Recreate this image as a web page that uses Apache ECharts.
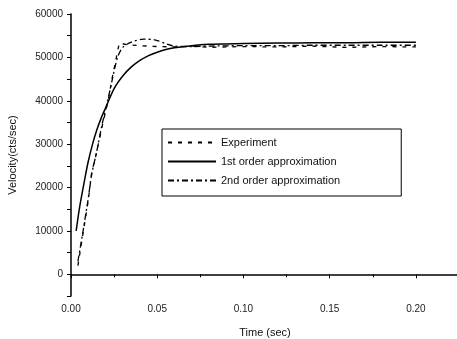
<!DOCTYPE html>
<html>
<head>
<meta charset="utf-8">
<script src="https://cdn.jsdelivr.net/npm/echarts@6/dist/echarts.min.js"></script>
<style>
  html, body { margin: 0; padding: 0; background: #fff; }
  #chart { width: 457px; height: 339px; }
</style>
</head>
<body>
<div id="chart"></div>
<script>
// values
const firstOrderT = [0.003, 0.005, 0.008, 0.01, 0.0125, 0.015, 0.0175, 0.02, 0.025, 0.03, 0.035, 0.04, 0.045, 0.05, 0.055, 0.06, 0.07, 0.08, 0.09, 0.1, 0.12, 0.14, 0.16, 0.18, 0.2];
const firstOrderV = [10000, 15500, 22000, 26000, 30000, 33300, 36000, 38300, 42800, 45700, 47800, 49300, 50400, 51200, 51800, 52200, 52700, 53000, 53100, 53200, 53300, 53400, 53400, 53500, 53500];

const experimentT = [0.004, 0.007, 0.01, 0.012, 0.0145, 0.018, 0.0215, 0.024, 0.028, 0.033, 0.04, 0.05, 0.06, 0.07, 0.08, 0.1, 0.12, 0.14, 0.16, 0.18, 0.2];
const experimentV = [2000, 9500, 17000, 23500, 27500, 34000, 40000, 45500, 53300, 52900, 52700, 52500, 52400, 52600, 52300, 52500, 52400, 52600, 52300, 52500, 52400];

const secondOrderT = [0.004, 0.007, 0.01, 0.012, 0.015, 0.018, 0.021, 0.024, 0.027, 0.03, 0.035, 0.042, 0.049, 0.056, 0.06, 0.07, 0.08, 0.1, 0.12, 0.14, 0.16, 0.18, 0.2];
const secondOrderV = [3000, 10000, 17500, 23000, 28500, 34500, 39500, 45000, 50000, 52300, 53500, 54200, 54000, 53000, 52600, 52500, 52600, 52700, 52700, 52800, 52800, 52800, 52800];

const xTicks = [0, 0.05, 0.1, 0.15, 0.2];
const yTicks = [0, 10000, 20000, 30000, 40000, 50000, 60000];

const zip = (t, v) => t.map((x, i) => [x, v[i]]);
const font = 'Liberation Sans';

const chart = echarts.init(document.getElementById('chart'));
chart.setOption({
  animation: false,
  backgroundColor: '#fff',
  textStyle: { fontFamily: font },
  grid: { left: 71, top: 14, right: -2, bottom: 43, outerBoundsMode: 'none', containLabel: false },
  legend: {
    orient: 'vertical',
    left: 162,
    top: 129,
    padding: [8, 61, 10, 5],
    itemGap: 8,
    itemWidth: 48,
    itemHeight: 10,
    borderColor: '#000',
    borderWidth: 1,
    itemStyle: { opacity: 0 },
    textStyle: { fontFamily: font, fontSize: 11, color: '#111' },
    data: ['Experiment', '1st order approximation', '2nd order approximation']
  },
  xAxis: {
    type: 'value',
    min: 0,
    max: 0.225,
    interval: 0.05,
    name: 'Time (sec)',
    nameLocation: 'middle',
    nameGap: 31,
    nameTextStyle: { fontFamily: font, fontSize: 11, color: '#111' },
    axisLine: { lineStyle: { color: '#000', width: 1.5 } },
    axisTick: { length: 4, lineStyle: { color: '#000' } },
    minorTick: { show: true, splitNumber: 2, length: 3, lineStyle: { color: '#000' } },
    splitLine: { show: false },
    axisLabel: {
      fontSize: 10, color: '#222', margin: 8,
      formatter: v => xTicks.some(t => Math.abs(t - v) < 1e-9) ? v.toFixed(2) : ''
    }
  },
  yAxis: {
    type: 'value',
    min: -5000,
    max: 60000,
    interval: 5000,
    name: 'Velocity(cts/sec)',
    nameLocation: 'middle',
    nameGap: 53,
    nameTextStyle: { fontFamily: font, fontSize: 11, color: '#111' },
    axisLine: { lineStyle: { color: '#000', width: 1.5 } },
    axisTick: { length: 4, lineStyle: { color: '#000' } },
    splitLine: { show: false },
    axisLabel: {
      fontSize: 10, color: '#222', margin: 8,
      formatter: v => yTicks.includes(v) ? String(v) : ''
    }
  },
  series: [
    {
      name: 'Experiment',
      type: 'line',
      symbol: 'none',
      data: zip(experimentT, experimentV),
      lineStyle: { color: '#000', width: 1.3, type: [4, 6] },
      itemStyle: { color: '#000' }
    },
    {
      name: '1st order approximation',
      type: 'line',
      symbol: 'none',
      smooth: 0.3,
      data: zip(firstOrderT, firstOrderV),
      lineStyle: { color: '#000', width: 1.5 },
      itemStyle: { color: '#000' }
    },
    {
      name: '2nd order approximation',
      type: 'line',
      symbol: 'none',
      smooth: 0.3,
      data: zip(secondOrderT, secondOrderV),
      lineStyle: { color: '#000', width: 1.3, type: [6, 3, 2, 3] },
      itemStyle: { color: '#000' }
    }
  ]
});
</script>
</body>
</html>
